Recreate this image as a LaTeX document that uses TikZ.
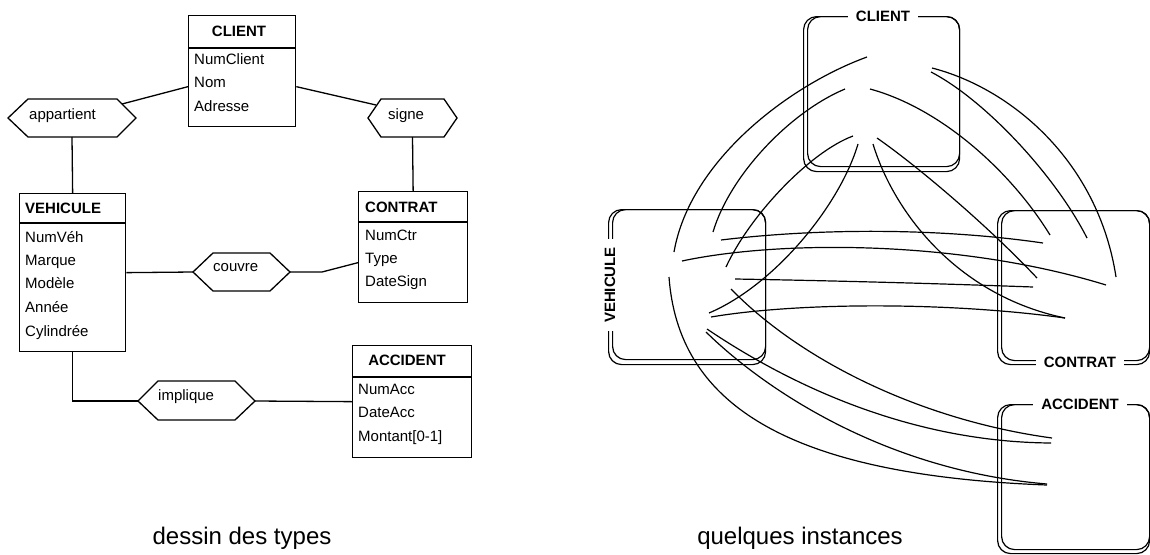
\documentclass[tikz,border=0pt]{standalone}
\usepackage{fontspec}
\setmainfont{Liberation Sans}
\begin{document}
\begin{tikzpicture}[x=1pt,y=-1pt,
  ln/.style={line width=1.3pt},
  ent/.style={draw,line width=1.3pt,anchor=north west,inner sep=0pt},
  attr/.style={anchor=base west,inner sep=0pt,font=\fontsize{15}{18}\selectfont},
  ttl/.style={anchor=base,inner sep=0pt,font=\fontsize{15}{18}\selectfont\bfseries},
  ttll/.style={anchor=base west,inner sep=0pt,font=\fontsize{15}{18}\selectfont\bfseries},
  capt/.style={anchor=base,inner sep=0pt,font=\fontsize{24}{28}\selectfont},
  cont/.style={draw,line width=1.2pt,rounded corners=13pt,anchor=north west,inner sep=0pt},
  lab/.style={fill=white,inner xsep=8pt,inner ysep=3pt,font=\fontsize{15}{18}\selectfont\bfseries},
  inst/.style={line width=1.2pt},
]
\useasboundingbox (0,0) rectangle (1150,554);

% ---------------- left: types ----------------
\node[ent,minimum width=107pt,minimum height=111pt] (client) at (188,15) {};
\draw[ln] (188,48) -- (295,48);
\node[ttl] (clientT) at (239,36) {CLIENT};
\node[attr] (clA1) at (194,64) {NumClient};
\node[attr] (clA2) at (194,87) {Nom};
\node[attr] (clA3) at (194,111) {Adresse};

\node[ent,minimum width=106pt,minimum height=158pt] (veh) at (19,193) {};
\draw[ln] (19,223) -- (125,223);
\node[ttll] (vehT) at (25,213) {VEHICULE};
\node[attr] (veA1) at (25,242) {NumVéh};
\node[attr] (veA2) at (25,265) {Marque};
\node[attr] (veA3) at (25,288) {Modèle};
\node[attr] (veA4) at (25,312) {Année};
\node[attr] (veA5) at (25,336) {Cylindrée};

\node[ent,minimum width=109pt,minimum height=111pt] (ctr) at (358,191) {};
\draw[ln] (358,222) -- (467,222);
\node[ttll] (ctrT) at (365,212) {CONTRAT};
\node[attr] (ctA1) at (365,240) {NumCtr};
\node[attr] (ctA2) at (365,263) {Type};
\node[attr] (ctA3) at (365,286) {DateSign};

\node[ent,minimum width=119pt,minimum height=112pt] (acc) at (352,345) {};
\draw[ln] (352,377) -- (471,377);
\node[ttl] (accT) at (407,365) {ACCIDENT};
\node[attr] (acA1) at (358,394) {NumAcc};
\node[attr] (acA2) at (358,417) {DateAcc};
\node[attr] (acA3) at (358,441) {Montant[0-1]};

% hexagons
\draw[ln] (8,118) -- (28,99) -- (117,99) -- (136,118) -- (117,137) -- (28,137) -- cycle;
\node[attr] (appT) at (29,119.5) {appartient};
\coordinate (appNE) at (122,104);
\coordinate (appS) at (72,137);

\draw[ln] (368,118) -- (381,99) -- (444,99) -- (457,118) -- (444,137) -- (381,137) -- cycle;
\node[attr] (sigT) at (388,119.5) {signe};
\coordinate (sigNW) at (376,105);
\coordinate (sigS) at (412.5,137);

\draw[ln] (193,272) -- (213,253) -- (270,253) -- (290,272) -- (270,291) -- (213,291) -- cycle;
\node[attr] (couT) at (213,271) {couvre};
\coordinate (couL) at (193,272);
\coordinate (couR) at (290,272);
\coordinate (couBend) at (322,272);

\draw[ln] (138,401) -- (158,381) -- (235,381) -- (255,401) -- (235,420) -- (158,420) -- cycle;
\node[attr] (impT) at (158,400) {implique};
\coordinate (impL) at (138,401);
\coordinate (impR) at (255,401);

% relations
\draw[ln] (appNE) -- ([yshift=-15.5pt]client.west);
\draw[ln] ([yshift=-15.5pt]client.east) -- (sigNW);
\draw[ln] (appS) -- (veh.north);
\draw[ln] (sigS) -- (ctr.north);
\draw[ln] (veh.east) -- (couL);
\draw[ln] (couR) -- (couBend) -- ([yshift=-15.5pt]ctr.west);
\draw[ln] (veh.south) |- (impL);
\draw[ln] (impR) -- (acc.west);

\node[capt] (capL) at (242,544) {dessin des types};

% ---------------- right: instances ----------------
\node[cont,minimum width=156pt,minimum height=155pt] (kClO) at (803,16) {};
\node[cont,minimum width=152pt,minimum height=150pt] (kCl) at (807,16) {};
\node[lab] (lCl) at (883,16) {CLIENT};

\node[cont,minimum width=157pt,minimum height=155pt] (kVeO) at (608,209) {};
\node[cont,minimum width=153pt,minimum height=150pt] (kVe) at (612,209) {};
\node[lab,rotate=90] (lVe) at (610,285) {VEHICULE};

\node[cont,minimum width=152pt,minimum height=154pt] (kCtO) at (997,210) {};
\node[cont,minimum width=148pt,minimum height=150pt] (kCt) at (1001,210) {};
\node[lab] (lCt) at (1080,362) {CONTRAT};

\node[cont,minimum width=152pt,minimum height=149pt] (kAcO) at (997,404) {};
\node[cont,minimum width=148pt,minimum height=145pt] (kAc) at (1001,404) {};
\node[lab] (lAc) at (1080,404) {ACCIDENT};

% instance end points
\coordinate (c1a) at (867,57);   \coordinate (c1b) at (674,252);
\coordinate (c2a) at (845,89);   \coordinate (c2b) at (713,232);
\coordinate (c4a) at (853,136);  \coordinate (c4b) at (726,267);
\coordinate (c5a) at (858,144);  \coordinate (c5b) at (709,313);
\coordinate (c3a) at (870,89);   \coordinate (c3b) at (1050,235);
\coordinate (c6a) at (873,144);  \coordinate (c6b) at (1065,318);
\coordinate (c7a) at (877,138);  \coordinate (c7b) at (1037,278);
\coordinate (c8a) at (932,68);   \coordinate (c8b) at (1116,277);
\coordinate (c9a) at (931,72);   \coordinate (c9b) at (1087,238);
\coordinate (h1a) at (721,240);  \coordinate (h1b) at (1043,243);
\coordinate (h2a) at (682,261);  \coordinate (h2b) at (1106,285);
\coordinate (h3a) at (735,279);  \coordinate (h3b) at (1033,287);
\coordinate (h4a) at (711,317);  \coordinate (h4b) at (1065,318);
\coordinate (v1a) at (669,277);  \coordinate (v1b) at (1047,485);
\coordinate (v2a) at (731,289);  \coordinate (v2b) at (1052,438);
\coordinate (v3a) at (707,329);  \coordinate (v3b) at (1051,443);
\coordinate (v4a) at (706,332);  \coordinate (v4b) at (1047,484);

\draw[inst] (c1a) .. controls (790,85) and (690,160) .. (c1b);
\draw[inst] (c2a) .. controls (790,112) and (730,175) .. (c2b);
\draw[inst] (c4a) .. controls (810,152) and (750,215) .. (c4b);
\draw[inst] (c5a) .. controls (840,205) and (775,285) .. (c5b);
\draw[inst] (c3a) .. controls (940,108) and (1010,170) .. (c3b);
\draw[inst] (c6a) .. controls (893,210) and (955,295) .. (c6b);
\draw[inst] (c7a) .. controls (920,168) and (990,228) .. (c7b);
\draw[inst] (c8a) .. controls (1010,88) and (1098,160) .. (c8b);
\draw[inst] (c9a) .. controls (985,100) and (1055,175) .. (c9b);
\draw[inst] (h1a) .. controls (820,228) and (940,228) .. (h1b);
\draw[inst] (h2a) .. controls (780,240) and (960,240) .. (h2b);
\draw[inst] (h3a) .. controls (850,281) and (950,284) .. (h3b);
\draw[inst] (h4a) .. controls (800,302) and (950,302) .. (h4b);
\draw[inst] (v1a) .. controls (678,400) and (780,475) .. (v1b);
\draw[inst] (v2a) .. controls (800,360) and (920,420) .. (v2b);
\draw[inst] (v3a) .. controls (790,385) and (910,442) .. (v3b);
\draw[inst] (v4a) .. controls (760,385) and (880,470) .. (v4b);

\node[capt] (capR) at (800,544) {quelques instances};
\end{tikzpicture}
\end{document}
